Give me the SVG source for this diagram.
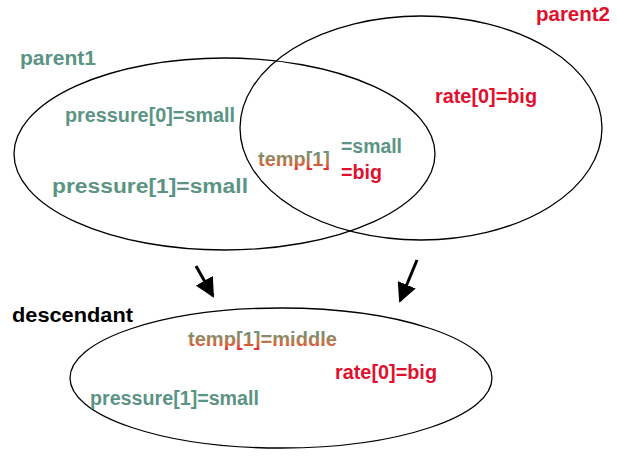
<svg xmlns="http://www.w3.org/2000/svg" width="617" height="460" viewBox="0 0 617 460">
  <style>
    .set { fill: none; stroke: #000; stroke-width: 1.3; }
    .lbl { font-family: "Liberation Sans", Arial, sans-serif; font-weight: bold; font-size: 19.5px; }
    .p1 { fill: #5b9484; }
    .p2 { fill: #e0102e; }
    .mix { fill: url(#mixGrad); }
    .ink { fill: #000; }
    .arrow { stroke: #000; stroke-width: 3; fill: none; }
  </style>
  <defs>
    <linearGradient id="mixGrad" x1="0" y1="0" x2="0" y2="1">
      <stop offset="0" stop-color="#5f9886"/>
      <stop offset="0.3" stop-color="#7f8f6f"/>
      <stop offset="0.7" stop-color="#c9703f"/>
      <stop offset="1" stop-color="#ee2430"/>
    </linearGradient>
    <marker id="head" viewBox="0 0 10 10" refX="9" refY="5" markerWidth="6.5" markerHeight="6.5" markerUnits="strokeWidth" orient="auto">
      <path d="M0,0 L10,5 L0,10 Z" fill="#000"/>
    </marker>
  </defs>

  <g id="parent1">
    <ellipse class="set" cx="224.5" cy="154" rx="210.5" ry="96"/>
    <text class="lbl p1" x="20" y="65" textLength="76" lengthAdjust="spacingAndGlyphs">parent1</text>
    <text class="lbl p1" x="65" y="122" textLength="170" lengthAdjust="spacingAndGlyphs">pressure[0]=small</text>
    <text class="lbl p1" x="52" y="193" textLength="196" lengthAdjust="spacingAndGlyphs">pressure[1]=small</text>
  </g>

  <g id="parent2">
    <ellipse class="set" cx="421" cy="128" rx="181" ry="112"/>
    <text class="lbl p2" x="536" y="21" textLength="74" lengthAdjust="spacingAndGlyphs">parent2</text>
    <text class="lbl p2" x="435" y="103" textLength="102" lengthAdjust="spacingAndGlyphs">rate[0]=big</text>
  </g>

  <g id="overlap">
    <text class="lbl mix" x="258" y="166" textLength="72" lengthAdjust="spacingAndGlyphs">temp[1]</text>
    <text class="lbl p1" x="341" y="153" textLength="61" lengthAdjust="spacingAndGlyphs">=small</text>
    <text class="lbl p2" x="341" y="179" textLength="41" lengthAdjust="spacingAndGlyphs">=big</text>
  </g>

  <g id="descendant">
    <ellipse class="set" cx="281" cy="378" rx="211" ry="70"/>
    <text class="lbl ink" x="12" y="322" textLength="121" lengthAdjust="spacingAndGlyphs">descendant</text>
    <text class="lbl mix" x="188" y="346" textLength="149" lengthAdjust="spacingAndGlyphs">temp[1]=middle</text>
    <text class="lbl p2" x="335" y="379" textLength="102" lengthAdjust="spacingAndGlyphs">rate[0]=big</text>
    <text class="lbl p1" x="90" y="405" textLength="169" lengthAdjust="spacingAndGlyphs">pressure[1]=small</text>
  </g>

  <g id="connectors">
    <line class="arrow" x1="196" y1="266" x2="213" y2="296" marker-end="url(#head)"/>
    <line class="arrow" x1="417" y1="260" x2="400" y2="301" marker-end="url(#head)"/>
  </g>
</svg>
